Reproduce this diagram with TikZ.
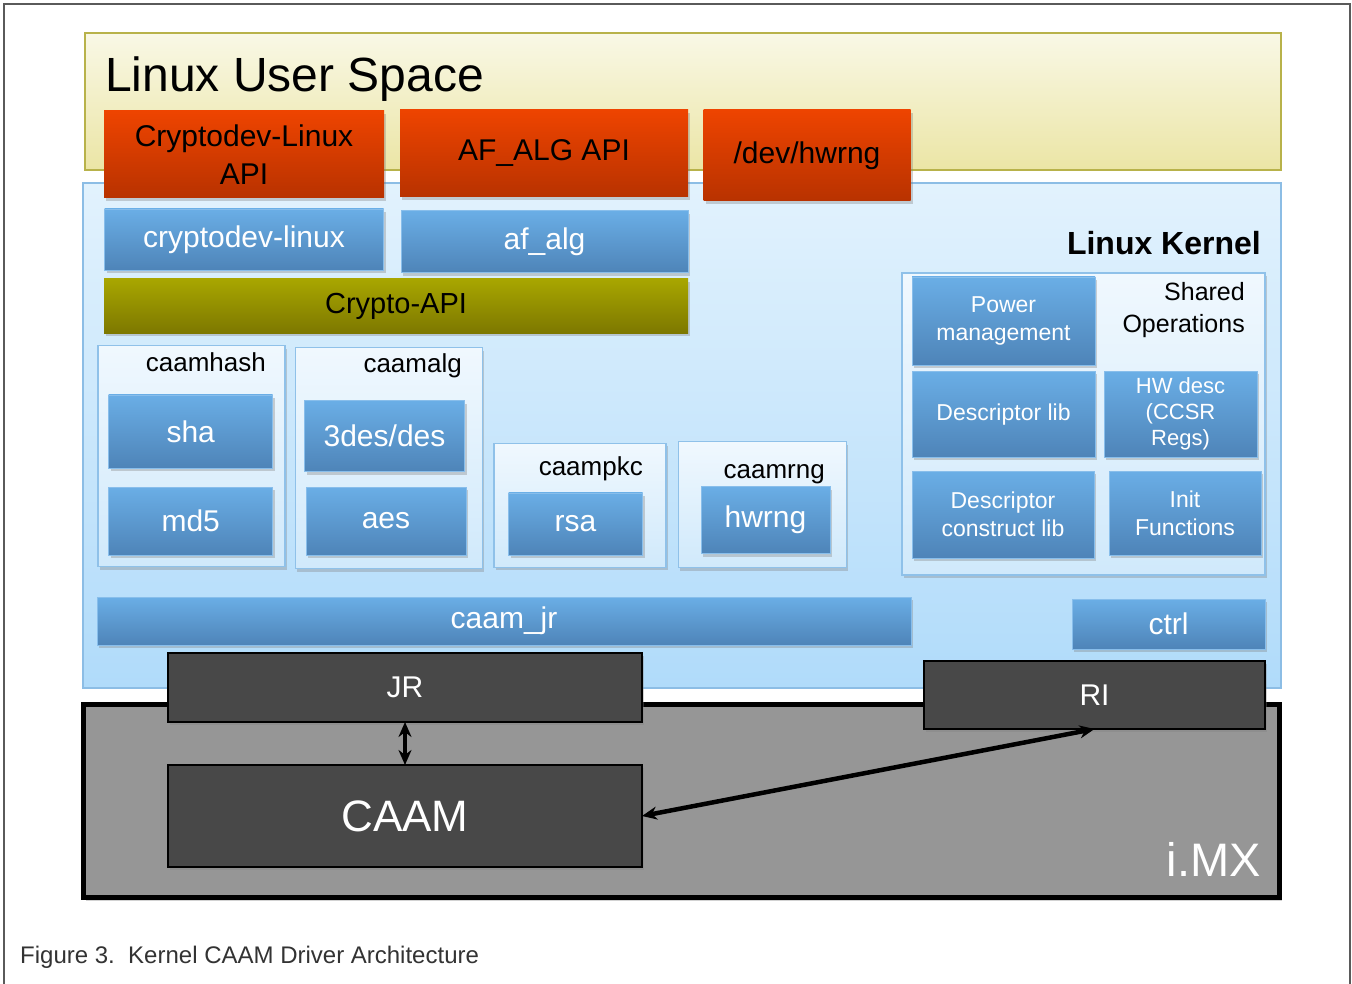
\documentclass[tikz,border=0pt]{standalone}
\usepackage{fontspec}
\setmainfont{Liberation Sans}
\usetikzlibrary{shadows,arrows.meta}

\definecolor{usertop}{HTML}{F9F8E6}
\definecolor{userbot}{HTML}{EBE5A5}
\definecolor{userline}{HTML}{B8B24A}
\definecolor{kerntop}{HTML}{E2F2FD}
\definecolor{kernbot}{HTML}{B0DBFA}
\definecolor{kernline}{HTML}{8CBDE5}
\definecolor{redtop}{HTML}{EE4400}
\definecolor{redbot}{HTML}{B83200}
\definecolor{bluetop}{HTML}{6AAEE6}
\definecolor{bluebot}{HTML}{4E84B8}
\definecolor{olivetop}{HTML}{A8A600}
\definecolor{olivebot}{HTML}{7D7800}
\definecolor{grouptop}{HTML}{F0F8FE}
\definecolor{groupbot}{HTML}{D0E9FB}
\definecolor{groupline}{HTML}{8FC1E9}
\definecolor{darkbox}{HTML}{484848}
\definecolor{imxgray}{HTML}{969696}
\definecolor{framegray}{HTML}{5A5A5A}
\definecolor{captiongray}{HTML}{333333}

% Define the styles for the boxes
\tikzset{
    dims/.style 2 args={minimum width=#1pt,minimum height=#2pt},
    box/.style={rectangle,inner sep=0pt,outer sep=0pt,align=center},
    dropshade/.style={drop shadow={shadow xshift=2pt,shadow yshift=-3pt,opacity=0.35}},
    layer/.style={box,line width=1.5pt},
    redbox/.style={box,dropshade,top color=redtop,bottom color=redbot,
        font=\fontsize{30}{38}\selectfont},
    bluebox/.style={box,dropshade,top color=bluetop,bottom color=bluebot,
        draw=bluetop!80!white,line width=0.6pt,text=white,font=\fontsize{30}{36}\selectfont},
    smallblue/.style={bluebox,font=\fontsize{23}{28}\selectfont},
    olivebox/.style={box,dropshade,top color=olivetop,bottom color=olivebot,
        font=\fontsize{29}{36}\selectfont},
    group/.style={box,dropshade,top color=grouptop,bottom color=groupbot,
        draw=groupline,line width=1.2pt},
    grouplabel/.style={inner sep=0pt,anchor=base east,font=\fontsize{26}{30}\selectfont},
    darknode/.style={box,dropshade,fill=darkbox,draw=black,line width=2pt,text=white},
    arrowline/.style={{Stealth[length=15pt,width=13pt]}-{Stealth[length=15pt,width=13pt]}}
}

\begin{document}
\begin{tikzpicture}[x=1pt,y=-1pt]
        \useasboundingbox (0,0) rectangle (1352,984);
        \fill[white] (0,0) rectangle (1352,984);
        \draw[framegray,line width=2pt] (4,984) -- (4,4) -- (1350,4) -- (1350,984);

        % Layers
        \node[layer,top color=usertop,bottom color=userbot,draw=userline,dims={1196}{137}] (user) at (683,101.5) {};
        \node[layer,top color=kerntop,bottom color=kernbot,draw=kernline,dims={1198}{505}] (kernel) at (682,435.5) {};
        \node[inner sep=0pt,anchor=base west,font=\fontsize{48}{56}\selectfont] (usertitle) at (105,92) {Linux User Space};
        \node[inner sep=0pt,anchor=base east,font=\fontsize{32}{36}\selectfont\bfseries] (kerneltitle) at (1261,255) {Linux Kernel};

        % User space APIs
        \node[redbox,dims={280}{87}] (cdapi) at (244,154.5) {Cryptodev-Linux\\API};
        \node[redbox,dims={288}{87}] (afapi) at (544,153.5) {AF\_ALG API};
        \node[redbox,dims={207}{91}] (devhwrng) at (807,155.5) {/dev/hwrng};

        % Kernel interfaces
        \node[bluebox,dims={279}{61}] (cdlinux) at (244,239.5) {cryptodev-linux};
        \node[bluebox,dims={287}{62}] (afalg) at (544.5,241.7) {af\_alg};
        \node[olivebox,dims={584}{54}] (cryptoapi) at (396,306) {Crypto-API};

        % CAAM algorithm groups
        \node[group,dims={187}{221}] (caamhash) at (191.5,456) {};
        \node[grouplabel] (hashlabel) at (266,371) {caamhash};
        \node[bluebox,dims={164}{73}] (sha) at (190.7,431.3) {sha};
        \node[bluebox,dims={164}{68}] (md5) at (190.7,521) {md5};

        \node[group,dims={187}{221}] (caamalg) at (388.6,458.3) {};
        \node[grouplabel] (alglabel) at (462,372) {caamalg};
        \node[bluebox,dims={160}{71}] (des) at (384.5,436.2) {3des/des};
        \node[bluebox,dims={160}{68}] (aes) at (386,521) {aes};

        \node[group,dims={172}{124}] (caampkc) at (579.9,505.3) {};
        \node[grouplabel] (pkclabel) at (643,475) {caampkc};
        \node[bluebox,dims={134}{62}] (rsa) at (575.5,523.8) {rsa};

        \node[group,dims={168}{126}] (caamrng) at (762.2,504.5) {};
        \node[grouplabel] (rnglabel) at (825,478) {caamrng};
        \node[bluebox,dims={129}{67}] (hwrng) at (765.5,520) {hwrng};

        % Shared operations
        \node[group,dims={363}{302}] (shared) at (1083.5,424) {};
        \node[inner sep=0pt,anchor=north east,align=right,font=\fontsize{25}{32}\selectfont] (sharedlabel) at (1245,282) {Shared\\Operations};
        \node[smallblue,dims={183}{88}] (power) at (1003.5,321) {Power\\management};
        \node[smallblue,dims={183}{86}] (desclib) at (1003.5,414.2) {Descriptor lib};
        \node[smallblue,dims={153}{86},font=\fontsize{22}{26}\selectfont] (hwdesc) at (1180.5,414) {HW desc\\(CCSR\\Regs)};
        \node[smallblue,dims={182}{87}] (construct) at (1003,514.5) {Descriptor\\construct lib};
        \node[smallblue,dims={152}{84}] (init) at (1185,513) {Init\\Functions};

        % Drivers
        \node[bluebox,dims={814}{48}] (caamjr) at (504,621) {caam\_jr};
        \node[bluebox,dims={193}{50}] (ctrl) at (1168.5,624) {ctrl};

        % Hardware
        \node[box,dropshade,fill=imxgray,draw=black,line width=5pt,dims={1196}{193}] (imx) at (681.5,801) {};
        \node[inner sep=0pt,anchor=base east,text=white,font=\fontsize{47}{54}\selectfont] (imxlabel) at (1261,876) {i.MX};
        \node[darknode,dims={474}{69},font=\fontsize{30}{36}\selectfont] (jr) at (405,687.5) {JR};
        \node[darknode,dims={341}{68},font=\fontsize{30}{36}\selectfont] (ri) at (1094.5,695) {RI};
        \node[darknode,dims={474}{102},font=\fontsize{44}{50}\selectfont] (caam) at (405,816) {CAAM};

        % Edges
        \draw[arrowline,line width=3.5pt] (jr) -- (caam);
        \draw[arrowline,line width=4.5pt] (caam.east) -- (ri.south);

        % Caption
        \node[inner sep=0pt,anchor=base west,text=captiongray,font=\fontsize{24}{28}\selectfont] (caption) at (20,963) {Figure 3.\ \ Kernel CAAM Driver Architecture};
    \end{tikzpicture}
\end{document}
